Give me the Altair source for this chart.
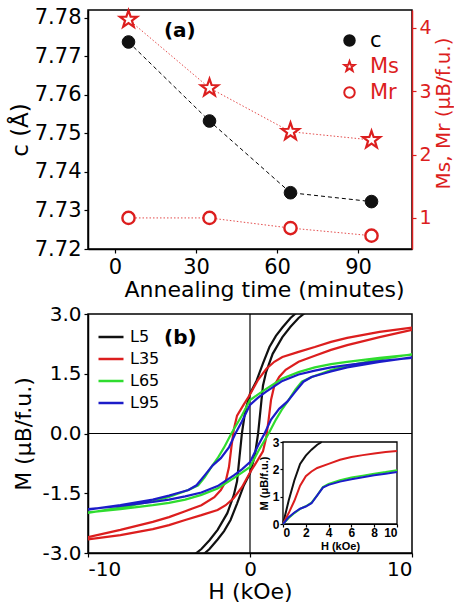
import altair as alt
import pandas as pd

# ---------------- panel (a) ----------------
anneal_time = [5, 35, 65, 95]
c_values = [7.7737, 7.7532, 7.7346, 7.7323]
ms_values = [4.13, 3.05, 2.36, 2.23]
mr_values = [1.00, 1.00, 0.84, 0.72]
series_a = ["c", "Ms", "Mr"]

# ---------------- panel (b): descending branches (+10 -> -10 kOe) ----------------
samples = ["L5", "L35", "L65", "L95"]
H_L5 = [10, 7, 5, 4, 3, 2.5, 2, 1.6, 1.2, 0.8, 0.4, 0, -0.3, -0.5, -0.65, -0.8, -1.0, -1.4, -2.0, -2.5, -3.0, -3.4, -4, -5, -7, -10]
M_L5 = [4.1, 3.85, 3.55, 3.35, 3.08, 2.9, 2.66, 2.45, 2.17, 1.76, 1.32, 1.0, 0.55, 0.0, -0.6, -1.2, -1.55, -2.0, -2.42, -2.68, -2.9, -3.03, -3.25, -3.5, -3.85, -4.1]
H_L35 = [10, 8, 6, 5, 4, 3, 2, 1.5, 1, 0.5, 0, -0.4, -0.8, -1.0, -1.15, -1.3, -1.5, -1.8, -2.2, -3, -4, -5, -6, -8, -10]
M_L35 = [2.66, 2.55, 2.4, 2.3, 2.17, 2.05, 1.92, 1.8, 1.62, 1.35, 0.98, 0.72, 0.45, 0.1, -0.35, -0.85, -1.2, -1.42, -1.6, -1.8, -1.95, -2.1, -2.22, -2.42, -2.6]
H_L65 = [10, 8, 6, 5, 4, 3, 2, 1, 0.5, 0, -0.5, -1.15, -1.6, -2.0, -2.4, -2.8, -3.2, -3.8, -4.5, -5, -6, -8, -10]
M_L65 = [1.98, 1.9, 1.8, 1.74, 1.66, 1.54, 1.38, 1.12, 0.98, 0.84, 0.45, 0.0, -0.35, -0.62, -0.85, -1.1, -1.3, -1.42, -1.52, -1.59, -1.7, -1.86, -1.99]
H_L95 = [10, 8, 6, 5, 4, 3, 2, 1, 0.5, 0, -0.5, -0.9, -1.3, -1.8, -2.3, -2.8, -3.3, -3.8, -4.5, -5, -6, -8, -10]
M_L95 = [1.9, 1.82, 1.72, 1.66, 1.58, 1.48, 1.32, 1.05, 0.9, 0.72, 0.3, 0.0, -0.35, -0.62, -0.8, -1.05, -1.3, -1.42, -1.5, -1.56, -1.66, -1.8, -1.91]

# ---------------- inset: virgin curves ----------------
Hi_L5 = [0, 0.5, 1, 1.5, 2, 2.5, 3, 3.4]
Mi_L5 = [0, 0.86, 1.6, 2.2, 2.5, 2.72, 2.9, 3.0]
Hi_L35 = [0, 0.5, 1, 1.5, 2, 2.5, 3, 4, 5, 6, 7, 8, 9, 10]
Mi_L35 = [0, 0.4, 0.85, 1.4, 1.75, 1.92, 2.05, 2.2, 2.35, 2.45, 2.52, 2.58, 2.63, 2.67]
Hi_L65 = [0, 0.5, 1, 1.5, 2, 2.5, 3, 3.5, 4, 5, 6, 7, 8, 9, 10]
Mi_L65 = [0, 0.22, 0.4, 0.55, 0.65, 0.78, 1.05, 1.35, 1.47, 1.6, 1.7, 1.77, 1.84, 1.9, 1.97]
Hi_L95 = [0, 0.5, 1, 1.5, 2, 2.5, 3, 3.5, 4, 5, 6, 7, 8, 9, 10]
Mi_L95 = [0, 0.25, 0.42, 0.56, 0.64, 0.76, 1.05, 1.33, 1.43, 1.55, 1.64, 1.71, 1.78, 1.84, 1.9]

RED = "#dc1e1e"
colors_b = ["#111111", RED, "#2fdc2f", "#1c1cc8"]
STAR = ("M0,-1L0.235,-0.324L0.951,-0.309L0.38,0.124L0.588,0.809L0,0.4"
        "L-0.588,0.809L-0.38,0.124L-0.951,-0.309L-0.235,-0.324Z")
HYPHEN = "replace(datum.label, '\u2212', '-')"

# ---- tables
df_c = pd.DataFrame({"t": anneal_time, "c": c_values, "series": "c"})
df_ms = pd.DataFrame({"t": anneal_time, "m": ms_values, "series": "Ms"})
df_mr = pd.DataFrame({"t": anneal_time, "m": mr_values, "series": "Mr"})
df_m = pd.concat([df_ms, df_mr])

loops = {"L5": (H_L5, M_L5), "L35": (H_L35, M_L35), "L65": (H_L65, M_L65), "L95": (H_L95, M_L95)}
rows = []
for s in samples:
    hs, ms = loops[s]
    k = 0
    for h, m in zip(hs, ms):          # descending branch
        rows.append({"H": h, "M": m, "sample": s, "ord": k}); k += 1
    for h, m in zip(hs, ms):          # ascending branch (point-symmetric)
        rows.append({"H": -h, "M": -m, "sample": s, "ord": k}); k += 1
df_b = pd.DataFrame(rows)

virgin = {"L5": (Hi_L5, Mi_L5), "L35": (Hi_L35, Mi_L35), "L65": (Hi_L65, Mi_L65), "L95": (Hi_L95, Mi_L95)}
rows = []
for s in samples:
    hs, ms = virgin[s]
    for k, (h, m) in enumerate(zip(hs, ms)):
        rows.append({"H": h, "M": m, "sample": s, "ord": k})
df_i = pd.DataFrame(rows)

W, H = 324, 239

# ---------------- panel (a) chart ----------------
X_a = alt.X("t:Q", scale=alt.Scale(domain=[-10, 110], nice=False, zero=False),
            axis=alt.Axis(values=[0, 30, 60, 90], title="Annealing time (minutes)",
                          labelFontSize=21, titleFontSize=22, tickSize=4, labelPadding=3,
                          titlePadding=2, titleX=176))
Y_c = alt.Y("c:Q", scale=alt.Scale(domain=[7.72, 7.782], nice=False, zero=False),
            axis=alt.Axis(values=[7.72, 7.73, 7.74, 7.75, 7.76, 7.77, 7.78], format=".2f",
                          title="c (Å)", labelFontSize=21, titleFontSize=23, tickSize=4,
                          labelPadding=3, titlePadding=2))
Y_m = alt.Y("m:Q", scale=alt.Scale(domain=[0.51, 4.28], nice=False, zero=False),
            axis=alt.Axis(orient="right", values=[1, 2, 3, 4], title="Ms, Mr (μB/f.u.)",
                          labelColor=RED, tickColor=RED, domainColor=RED, titleColor=RED,
                          labelFontSize=19, titleFontSize=20, tickSize=4, labelPadding=3,
                          titlePadding=2, titleAngle=270, titleBaseline="top", titleY=103))

leg_a = alt.Legend(title=None, orient="none", legendX=251, legendY=20, labelFontSize=21,
                   labelFont="DejaVu Sans", symbolSize=110, symbolStrokeWidth=2,
                   labelOffset=10, rowPadding=4,
                   labelColor={"expr": "datum.label == 'c' ? 'black' : '%s'" % RED})
shape_a = alt.Shape("series:N", scale=alt.Scale(domain=series_a, range=["circle", STAR, "circle"]), legend=leg_a)
fill_a = alt.Fill("series:N", scale=alt.Scale(domain=series_a, range=["#111111", "white", "white"]), legend=leg_a)
stroke_a = alt.Stroke("series:N", scale=alt.Scale(domain=series_a, range=["#111111", RED, RED]), legend=leg_a)

c_line = alt.Chart(df_c).mark_line(color="black", strokeDash=[4, 3], strokeWidth=1).encode(x=X_a, y=Y_c)
c_pts = alt.Chart(df_c).mark_point(filled=True, size=160, strokeWidth=1, opacity=1).encode(
    x=X_a, y=Y_c, shape=shape_a, fill=fill_a, stroke=stroke_a)
a_lab = alt.Chart(pd.DataFrame({"t": [24], "c": [7.7766], "txt": ["(a)"]})).mark_text(
    fontSize=20, fontWeight="bold", font="DejaVu Sans").encode(x=X_a, y=Y_c, text="txt:N")

m_line = alt.Chart(df_m).mark_line(color=RED, strokeDash=[1.5, 2], strokeWidth=1, opacity=0.8).encode(
    x=X_a, y=Y_m, detail="series:N")
ms_pts = alt.Chart(df_ms).mark_point(filled=True, size=330, strokeWidth=2.2, opacity=1).encode(
    x=X_a, y=Y_m, shape=shape_a, fill=fill_a, stroke=stroke_a)
mr_pts = alt.Chart(df_mr).mark_point(filled=True, size=150, strokeWidth=2.4, opacity=1).encode(
    x=X_a, y=Y_m, shape=shape_a, fill=fill_a, stroke=stroke_a)

top = alt.layer(
    alt.layer(c_line, c_pts, a_lab),
    alt.layer(m_line, ms_pts, mr_pts),
).resolve_scale(y="independent").properties(width=W, height=H)

# ---------------- panel (b) chart ----------------
X_b = alt.X("H:Q", scale=alt.Scale(domain=[-10, 10], nice=False),
            axis=alt.Axis(values=[-10, 0, 10], title="H (kOe)", labelFontSize=20, labelExpr=HYPHEN,
                          titleFontSize=22, tickSize=4, labelPadding=2, titlePadding=2))
Y_b = alt.Y("M:Q", scale=alt.Scale(domain=[-3, 3], nice=False),
            axis=alt.Axis(values=[-3, -1.5, 0, 1.5, 3], format=".1f", title="M (μB/f.u.)",
                          labelExpr=HYPHEN, labelFontSize=20, titleFontSize=22, tickSize=4,
                          labelPadding=3, titlePadding=6))
col_b = alt.Color("sample:N", scale=alt.Scale(domain=samples, range=colors_b),
                  legend=alt.Legend(title=None, orient="none", legendX=9, legendY=313,
                                    symbolType="stroke", symbolSize=625, symbolStrokeWidth=2.5,
                                    labelFontSize=16, labelFont="DejaVu Sans", labelOffset=5,
                                    rowPadding=0))

loops_ch = alt.Chart(df_b).mark_line(strokeWidth=2.2, clip=True).encode(
    x=X_b, y=Y_b, color=col_b, order="ord:Q")
vrule = alt.Chart(pd.DataFrame({"H": [0]})).mark_rule(color="black", strokeWidth=1.2).encode(x="H:Q")
hrule = alt.Chart(pd.DataFrame({"M": [0]})).mark_rule(color="black", strokeWidth=1.2).encode(y="M:Q")
b_lab = alt.Chart(pd.DataFrame({"H": [-4.3], "M": [2.39], "txt": ["(b)"]})).mark_text(
    fontSize=20, fontWeight="bold", font="DejaVu Sans").encode(x=X_b, y=Y_b, text="txt:N")

inset_font = "Liberation Sans"
X_i = alt.X("H:Q", scale=alt.Scale(domain=[0, 10], range=[195, 309], nice=False),
            axis=alt.Axis(orient="bottom", offset=-29, values=[0, 2, 4, 6, 8, 10], title="H (kOe)",
                          labelFont=inset_font, titleFont=inset_font, labelFontSize=12,
                          titleFontSize=11, labelFontWeight="bold", titleFontWeight="bold",
                          tickSize=3, labelPadding=0, titlePadding=2, domainWidth=1.2))
Y_i = alt.Y("M:Q", scale=alt.Scale(domain=[0, 3], range=[210, 128], nice=False),
            axis=alt.Axis(orient="left", offset=-195, values=[0, 1, 2, 3], title="M (μB/f.u.)",
                          labelFont=inset_font, titleFont=inset_font, labelFontSize=12,
                          titleFontSize=11, labelFontWeight="bold", titleFontWeight="bold",
                          tickSize=3, labelPadding=1, titlePadding=3, domainWidth=1.2))
inset_box = alt.Chart(pd.DataFrame({"H": [0], "H2": [10], "M": [0], "M2": [3]})).mark_rect(
    fill="white", stroke="black", strokeWidth=1.3).encode(x=X_i, x2="H2:Q", y=Y_i, y2="M2:Q")
inset_lines = alt.Chart(df_i).mark_line(strokeWidth=2).encode(
    x=X_i, y=Y_i, color=col_b, order="ord:Q")

bottom = alt.layer(
    alt.layer(vrule, hrule, loops_ch, b_lab),
    alt.layer(inset_box, inset_lines),
).resolve_scale(x="independent", y="independent").properties(width=W, height=H)

chart = alt.vconcat(top, bottom, spacing=2).properties(
    padding={"left": 8, "top": 5, "right": 0, "bottom": 0}
).configure_view(stroke="black", strokeWidth=1.5).configure_axis(
    grid=False, domainColor="black", tickColor="black", labelColor="black", titleColor="black",
    labelFont="DejaVu Sans", titleFont="DejaVu Sans", titleFontWeight="normal",
    domainWidth=1.5, tickWidth=1.2
)

chart.save("out.html", embed_options={"renderer": "svg", "actions": False})
